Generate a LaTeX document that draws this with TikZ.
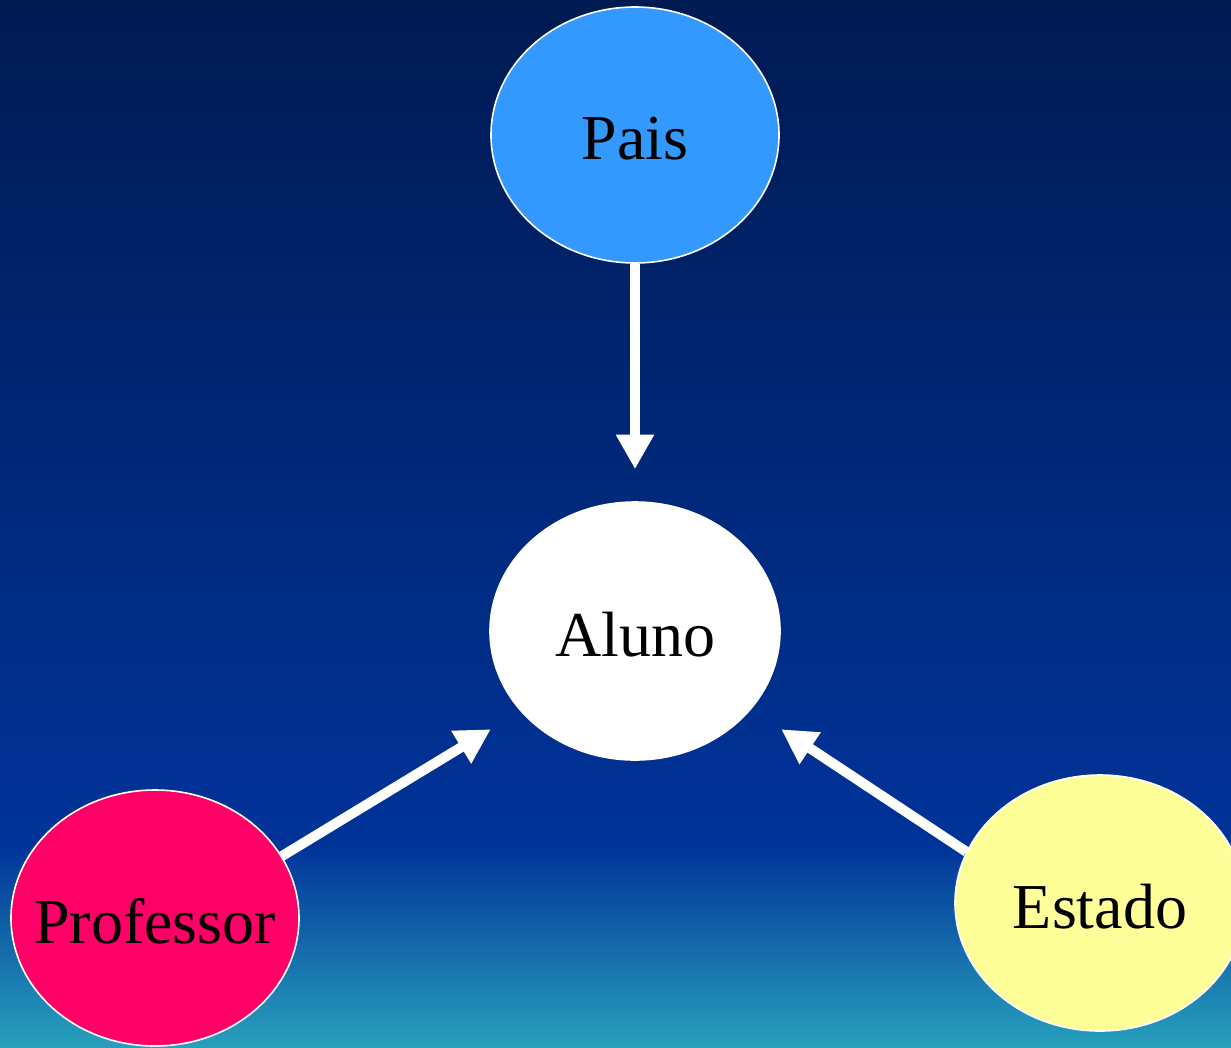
\documentclass[tikz,border=0pt]{standalone}
\usepackage{fontspec}
\setmainfont{Liberation Serif}
\usetikzlibrary{shapes.geometric,arrows.meta}
\definecolor{bgtop}{HTML}{001A52}
\definecolor{bgmid}{HTML}{003399}
\definecolor{bgbot}{HTML}{28A0BC}
\definecolor{paisc}{HTML}{3399FF}
\definecolor{profc}{HTML}{FF0066}
\definecolor{estc}{HTML}{FFFF99}
\newcommand{\lbl}[1]{\makebox[0pt]{\raisebox{-2.5pt}[\height][\depth]{#1}}}
\begin{document}
\begin{tikzpicture}[x=0.75pt,y=-0.75pt,
  ent/.style={ellipse,draw=white,line width=1.2pt,inner sep=0pt,
    minimum width=216pt,minimum height=192pt,font=\fontsize{48}{56}\selectfont,text=black},
  arr/.style={draw=white,line width=7.5pt,-{Triangle[length=26pt,width=27pt]}}]
\useasboundingbox (0,0) rectangle (1231,1047);
\clip (0,0) rectangle (1231,1047);
\shade[top color=bgtop,bottom color=bgmid] (0,0) rectangle (1231,846);
\shade[top color=bgmid,bottom color=bgbot] (0,845) rectangle (1231,1047);
\node[ent,fill=paisc] (pais) at (635,135) {\lbl{Pais}};
\node[ent,fill=white,minimum width=217.5pt,minimum height=193.5pt] (aluno) at (635,631) {\lbl{Aluno}};
\node[ent,fill=profc] (prof) at (155,918) {\lbl{Professor}};
\node[ent,fill=estc,minimum width=217.5pt] (estado) at (1100,903) {\lbl{Estado}};
\draw[arr,shorten >=24pt] (pais.south) -- (aluno.north);
\draw[arr,shorten >=26pt] (prof.26) -- (aluno.-145.5);
\draw[arr,shorten >=27pt] (estado.159) -- (aluno.-34);
\end{tikzpicture}
\end{document}
